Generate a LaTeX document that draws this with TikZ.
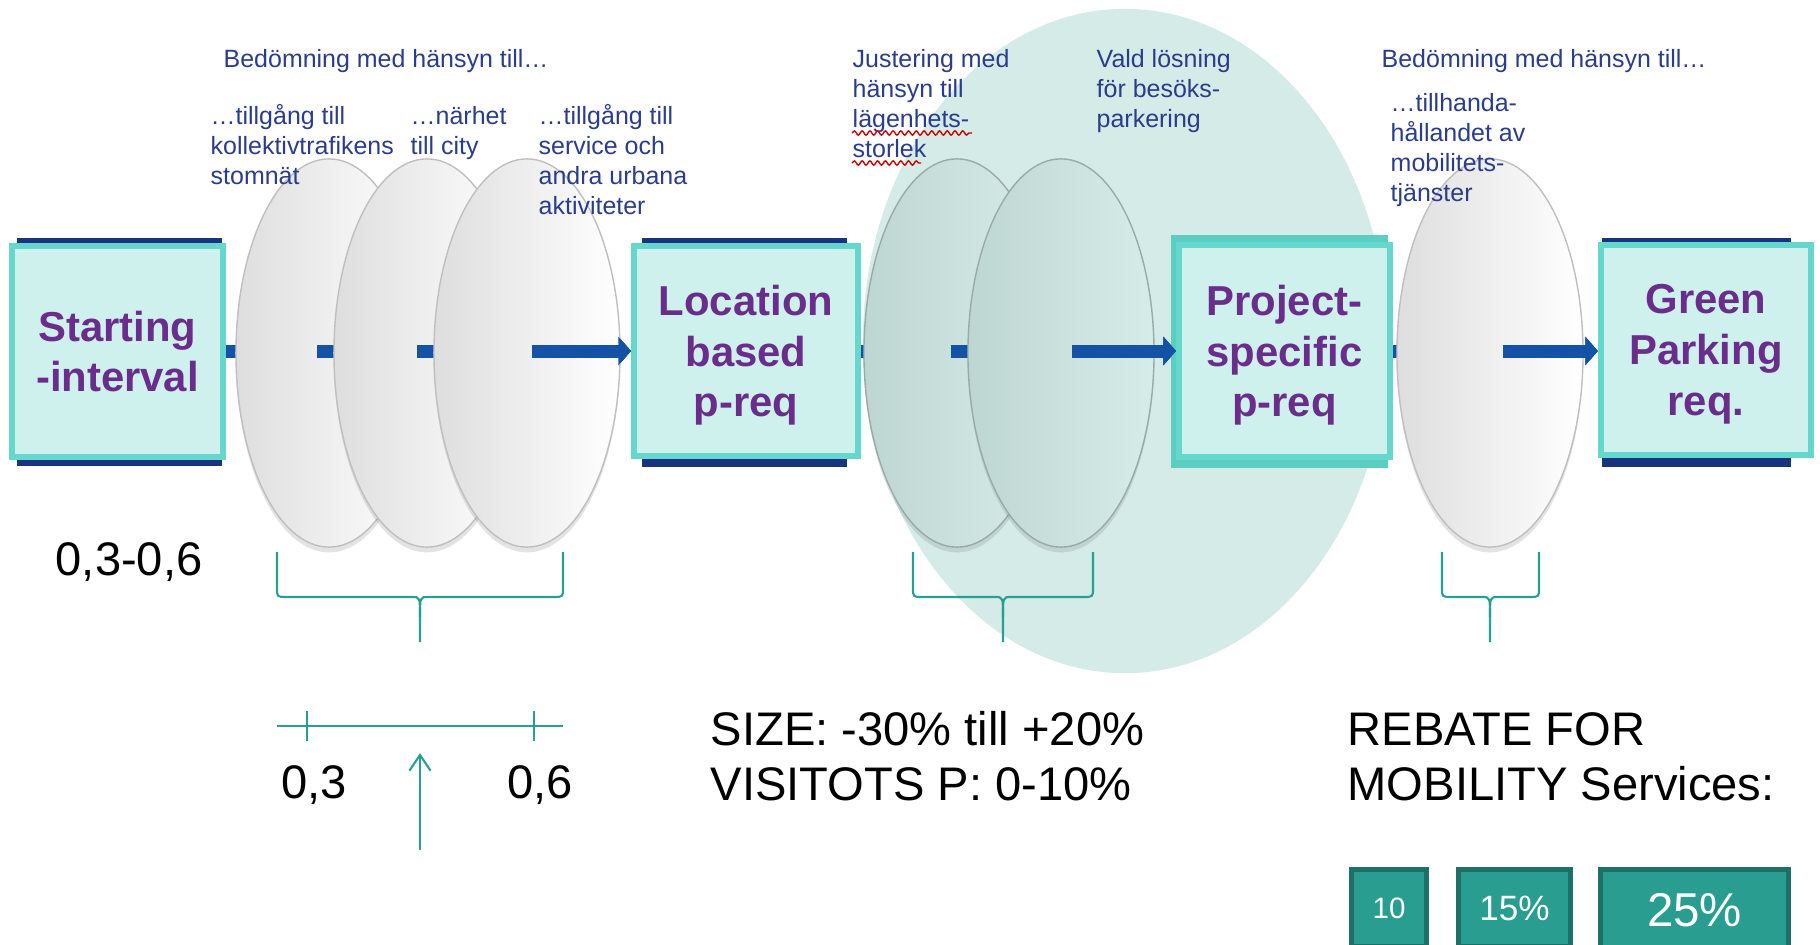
\documentclass[tikz,border=0pt]{standalone}
\usepackage{fontspec}
\setmainfont{Liberation Sans}
\usetikzlibrary{shapes.geometric,arrows.meta,shadows,decorations.pathmorphing}
\definecolor{cbox}{RGB}{207,241,238}
\definecolor{cedge}{RGB}{102,215,204}
\definecolor{cedgeb}{RGB}{92,205,193}
\definecolor{cnavy}{RGB}{24,52,128}
\definecolor{cflow}{RGB}{20,82,165}
\definecolor{cpurple}{RGB}{107,45,139}
\definecolor{cblue}{RGB}{42,60,142}
\definecolor{czone}{RGB}{212,235,231}
\definecolor{cteal}{RGB}{38,160,148}
\definecolor{cchip}{RGB}{42,157,145}
\definecolor{cchipedge}{RGB}{30,112,103}
\definecolor{cdiscl}{RGB}{190,214,210}
\definecolor{cdiscr}{RGB}{214,236,232}

\begin{document}
\begin{tikzpicture}[x=0.01cm,y=-0.01cm,
   stage/.style={rectangle, draw=cedge, line width=1.7pt, fill=cbox, inner sep=0pt,
     minimum width=2.11cm, minimum height=2.11cm, align=center, text=cpurple,
     text depth=0pt, font=\fontsize{11.9}{14.4}\selectfont\bfseries},
   disc/.style={ellipse, inner sep=0pt, minimum width=1.86cm, minimum height=3.88cm,
     draw=black!25, line width=0.4pt, left color=black!13, right color=white,
     drop shadow={shadow xshift=0pt, shadow yshift=-1.5pt, opacity=0.22}},
   tdisc/.style={disc, draw=cdiscl!80!black, left color=cdiscl, right color=cdiscr},
   flow/.style={draw=cflow, line width=3.7pt, -{Triangle[length=3.6pt,width=8pt]}},
   note/.style={anchor=base west, align=left, inner sep=0pt, text=cblue,
     font=\fontsize{7.1}{8.5}\selectfont},
   big/.style={anchor=base west, align=left, inner sep=0pt,
     font=\fontsize{13.4}{15.6}\selectfont},
   brace/.style={draw=cteal, line width=0.6pt},
   chip/.style={rectangle, draw=cchipedge, line width=1.4pt, fill=cchip, text=white,
     inner sep=0pt, minimum height=0.77cm},
   squiggle/.style={draw=red!80!black, line width=0.4pt,
     decorate, decoration={snake, amplitude=0.6pt, segment length=2.2pt}}]
  \useasboundingbox (0,0) rectangle (1820,945);
  \clip (0,0) rectangle (1820,945);

  \node[ellipse, fill=czone, inner sep=0pt, minimum width=5.24cm, minimum height=6.64cm]
    (zone) at (1125,341) {};

  \fill[cnavy] (17,238) rectangle (222,466);
  \fill[cnavy] (642,238) rectangle (847,467);
  \fill[cnavy] (1602,238) rectangle (1791,467);
  \fill[cedgeb] (1171,235) rectangle (1388,468);

  \node[stage] (start) at (117.5,351.5) {Starting\\-interval};
  \node[stage, minimum width=2.24cm, minimum height=2.10cm] (loc) at (746,351) {Location\\based\\p-req};
  \node[stage, minimum height=2.12cm] (proj) at (1284.5,351) {Project-\\specific\\p-req};
  \node[stage, minimum width=2.10cm, minimum height=2.10cm] (green) at (1706,350) {Green\\Parking\\req.};

  \draw[flow] (start.east |- 0,351) -- (loc.west |- 0,351);
  \node[disc] (e1) at (329,353) {};
  \coordinate (a1) at (317,351);
  \draw[flow] (a1) -- (a1 -| loc.west);
  \node[disc] (e2) at (427,353) {};
  \coordinate (a2) at (417,351);
  \draw[flow] (a2) -- (a2 -| loc.west);
  \node[disc] (e3) at (527,353) {};
  \coordinate (a3) at (532,351);
  \draw[flow] (a3) -- (a3 -| loc.west);

  \draw[flow] (loc.east |- 0,351) -- (proj.west |- 0,351);
  \node[tdisc] (e4) at (957,353) {};
  \coordinate (a4) at (951,351);
  \draw[flow] (a4) -- (a4 -| proj.west);
  \node[tdisc] (e5) at (1061,353) {};
  \coordinate (a5) at (1072,351);
  \draw[flow] (a5) -- (a5 -| proj.west);

  \draw[flow] (proj.east |- 0,351) -- (green.west |- 0,351);
  \node[disc] (e6) at (1490,353) {};
  \coordinate (a6) at (1503,351);
  \draw[flow] (a6) -- (a6 -| green.west);

  \foreach \l/\m/\r in {277/420/563, 913/1003/1093, 1442/1490/1539} {
    \draw[brace] (\l,552) -- (\l,588) .. controls (\l,597) .. (\l+10,597) -- (\m-8,597)
      .. controls (\m,597) .. (\m,617) -- (\m,642);
    \draw[brace] (\r,552) -- (\r,588) .. controls (\r,597) .. (\r-10,597) -- (\m+8,597)
      .. controls (\m,597) .. (\m,617);
  }

  \coordinate (axl) at (277,726);
  \coordinate (axr) at (563,726);
  \draw[brace] (axl) -- (axr);
  \draw[brace] (307,711) -- (307,741) (534,711) -- (534,741);
  \node[big, anchor=base] (lo) at (314,798) {0,3};
  \node[big, anchor=base] (hi) at (540,798) {0,6};
  \coordinate (ptr) at (420,850);
  \coordinate (ptrtip) at (420,753);
  \draw[brace, -{Straight Barb[length=4.5pt,width=6pt]}] (ptr) -- (ptrtip);

  \node[big] (range) at (55,575) {0,3-0,6};
  \node[big] (size) at (710,800) {SIZE: -30\% till +20\%\\VISITOTS P: 0-10\%};
  \node[big] (rebate) at (1347,800) {REBATE FOR\\MOBILITY Services:};

  \node[chip, minimum width=0.75cm, font=\fontsize{8.4}{10}\selectfont] (c10) at (1389,908) {10};
  \node[chip, minimum width=1.12cm, font=\fontsize{10}{12}\selectfont] (c15) at (1514.5,908) {15\%};
  \node[chip, minimum width=1.88cm, minimum height=0.81cm, font=\fontsize{13.5}{16}\selectfont] (c25) at (1694.5,910) {25\%};

  \node[note] (head1) at (223,67) {Bedömning med hänsyn till…};
  \node[note] (n1) at (210,184) {…tillgång till\\kollektivtrafikens\\stomnät};
  \node[note] (n2) at (410,154) {…närhet\\till city};
  \node[note] (n3) at (538,214) {…tillgång till\\service och\\andra urbana\\aktiviteter};
  \node[note] (n4) at (852,157) {Justering med\\hänsyn till\\lägenhets-\\storlek};
  \node[note] (n5) at (1096,127) {Vald lösning\\för besöks-\\parkering};
  \node[note] (head2) at (1381,67) {Bedömning med hänsyn till…};
  \node[note] (n6) at (1390,201) {…tillhanda-\\hållandet av\\mobilitets-\\tjänster};
  \draw[squiggle] (852,133) -- (972,133);
  \draw[squiggle] (852,163) -- (921,163);
\end{tikzpicture}
\end{document}
